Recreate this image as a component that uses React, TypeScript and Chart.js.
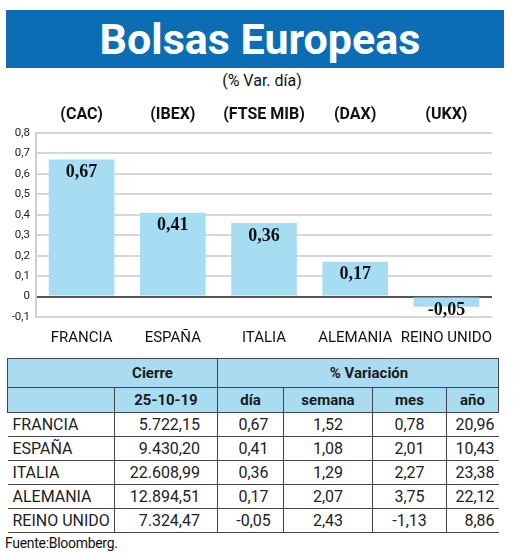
import React, { useEffect, useRef } from "react";
import { Chart, registerables } from "chart.js";

Chart.register(...registerables);

const countries = ["FRANCIA", "ESPAÑA", "ITALIA", "ALEMANIA", "REINO UNIDO"];
const indices = ["(CAC)", "(IBEX)", "(FTSE MIB)", "(DAX)", "(UKX)"];
const varDia = [0.67, 0.41, 0.36, 0.17, -0.05];
const cierre = ["5.722,15", "9.430,20", "22.608,99", "12.894,51", "7.324,47"];
const semana = [1.52, 1.08, 1.29, 2.07, 2.43];
const mes = [0.78, 2.01, 2.27, 3.75, -1.13];
const anio = [20.96, 10.43, 23.38, 22.12, 8.86];
const yMin = -0.1;
const yMax = 0.8;
const yStep = 0.1;

const SANS = 'Roboto, "Liberation Sans", sans-serif';
const BLUE = "#0b6db3";
const LIGHT = "#a6ddf3";
const HEAD = "#a9dcf1";

const fmt2 = (v: number) => v.toFixed(2).replace(".", ",");
const fmt1 = (v: number) => {
  const r = Math.round(v * 10) / 10;
  return r === 0 ? "0" : r.toFixed(1).replace(".", ",");
};

const valueLabels = {
  id: "valueLabels",
  afterDatasetsDraw(chart: any) {
    const ctx = chart.ctx;
    const meta = chart.getDatasetMeta(0);
    const data = chart.data.datasets[0].data as number[];
    ctx.save();
    ctx.font = 'bold 18px "Liberation Serif", "DejaVu Serif", serif';
    ctx.fillStyle = "#111";
    ctx.textAlign = "center";
    ctx.textBaseline = "middle";
    meta.data.forEach((el: any, i: number) => {
      const v = data[i];
      const y = v >= 0 ? el.y + 13 : el.y + 4;
      ctx.fillText(fmt2(v), el.x, y);
    });
    ctx.restore();
  },
};

function BarChart() {
  const ref = useRef<HTMLCanvasElement>(null);
  useEffect(() => {
    if (!ref.current) return;
    const chart = new Chart(ref.current, {
      type: "bar",
      data: {
        labels: countries,
        datasets: [
          {
            data: varDia,
            backgroundColor: LIGHT,
            borderWidth: 0,
            barPercentage: 0.72,
            categoryPercentage: 1,
          },
        ],
      },
      options: {
        responsive: false,
        animation: false,
        layout: { padding: { left: 0, right: 18, top: 0, bottom: 0 } },
        plugins: { legend: { display: false }, tooltip: { enabled: false } },
        scales: {
          x: {
            position: "bottom",
            grid: { display: false, drawTicks: false },
            border: { display: false },
            ticks: {
              padding: 12,
              color: "#111",
              font: { family: SANS, size: 15 },
              maxRotation: 0,
              autoSkip: false,
            },
            afterFit: (s: any) => {
              s.height = 33;
            },
          },
          x2: {
            type: "category",
            labels: indices,
            position: "top",
            offset: true,
            grid: { display: false, drawTicks: false },
            border: { display: false },
            ticks: {
              padding: 8,
              color: "#111",
              font: { family: SANS, size: 16, weight: "bold" },
              maxRotation: 0,
              autoSkip: false,
            },
            afterFit: (s: any) => {
              s.height = 38;
            },
          },
          y: {
            min: yMin,
            max: yMax,
            grid: {
              drawTicks: false,
              lineWidth: 2,
              color: (c: any) =>
                c.tick && Math.abs(c.tick.value) < 1e-9 ? "#555" : "#d6d6d6",
            },
            border: { display: true, color: "#cfcfcf", width: 2 },
            ticks: {
              stepSize: yStep,
              padding: 6,
              color: "#222",
              font: { family: SANS, size: 11.5 },
              callback: (v: any) => fmt1(Number(v)),
            },
            afterFit: (s: any) => {
              s.width = 36;
            },
          },
        },
      },
      plugins: [valueLabels],
    } as any);
    return () => chart.destroy();
  }, []);
  return (
    <canvas
      ref={ref}
      width={510}
      height={255}
      style={{ position: "absolute", left: 0, top: 95, width: 510, height: 255 }}
    />
  );
}

export default function App() {
  useEffect(() => {
    document.body.style.margin = "0";
  }, []);

  const colW = [107, 103, 66, 89, 74, 52];
  const vline = "1.5px solid #444";
  const cellBase: React.CSSProperties = {
    fontFamily: SANS,
    fontSize: 16,
    color: "#222",
    height: 23,
    padding: 0,
    borderBottom: vline,
    lineHeight: "22px",
    whiteSpace: "nowrap",
  };
  const headCell: React.CSSProperties = {
    fontFamily: SANS,
    fontSize: 15,
    fontWeight: "bold",
    color: "#1a1a1a",
    background: HEAD,
    padding: 0,
    textAlign: "center",
    whiteSpace: "nowrap",
  };

  return (
    <div style={{ position: "relative", width: 520, height: 556, background: "#fff", overflow: "hidden" }}>
      <div
        style={{
          position: "absolute",
          left: 6,
          top: 10,
          width: 498,
          height: 58,
          background: BLUE,
          color: "#fff",
          fontFamily: SANS,
          fontWeight: "bold",
          fontSize: 43,
          lineHeight: "58px",
          textAlign: "center",
          paddingLeft: 10,
          boxSizing: "border-box",
        }}
      >
        Bolsas Europeas
      </div>
      <div
        style={{
          position: "absolute",
          left: 0,
          top: 71,
          width: 524,
          textAlign: "center",
          fontFamily: SANS,
          fontSize: 16,
          color: "#111",
          lineHeight: "20px",
        }}
      >
        (% Var. día)
      </div>
      <BarChart />
      <table
        style={{
          position: "absolute",
          left: 7,
          top: 358,
          width: 491,
          borderCollapse: "collapse",
          tableLayout: "fixed",
        }}
      >
        <colgroup>
          {colW.map((w, i) => (
            <col key={i} style={{ width: w }} />
          ))}
        </colgroup>
        <tbody>
          <tr style={{ height: 29 }}>
            <td
              colSpan={2}
              style={{
                ...headCell,
                borderTop: vline,
                borderLeft: vline,
                borderBottom: vline,
                borderRight: vline,
                paddingLeft: 80,
              }}
            >
              Cierre
            </td>
            <td
              colSpan={4}
              style={{
                ...headCell,
                borderTop: vline,
                borderRight: vline,
                borderBottom: vline,
                paddingLeft: 22,
              }}
            >
              % Variación
            </td>
          </tr>
          <tr style={{ height: 25 }}>
            <td style={{ ...headCell, borderLeft: vline, borderBottom: vline }}></td>
            <td style={{ ...headCell, borderLeft: vline, borderBottom: vline }}>25-10-19</td>
            <td style={{ ...headCell, borderLeft: vline, borderBottom: vline }}>día</td>
            <td style={{ ...headCell, borderLeft: vline, borderBottom: vline }}>semana</td>
            <td style={{ ...headCell, borderLeft: vline, borderBottom: vline }}>mes</td>
            <td style={{ ...headCell, borderLeft: vline, borderBottom: vline, borderRight: vline }}>año</td>
          </tr>
          {countries.map((c, i) => (
            <tr key={c}>
              <td style={{ ...cellBase, textAlign: "left", paddingLeft: 5 }}>{c}</td>
              <td style={{ ...cellBase, textAlign: "right", paddingRight: 17, borderLeft: vline }}>{cierre[i]}</td>
              <td style={{ ...cellBase, textAlign: "center", paddingLeft: 6, borderLeft: vline }}>{fmt2(varDia[i])}</td>
              <td style={{ ...cellBase, textAlign: "center", borderLeft: vline }}>{fmt2(semana[i])}</td>
              <td style={{ ...cellBase, textAlign: "center", borderLeft: vline }}>{fmt2(mes[i])}</td>
              <td style={{ ...cellBase, textAlign: "right", paddingRight: 4, borderLeft: vline }}>{fmt2(anio[i])}</td>
            </tr>
          ))}
        </tbody>
      </table>
      <div
        style={{
          position: "absolute",
          left: 5,
          top: 533,
          fontFamily: SANS,
          fontSize: 14,
          color: "#111",
          lineHeight: "20px",
          letterSpacing: -0.3,
        }}
      >
        Fuente:Bloomberg.
      </div>
    </div>
  );
}
